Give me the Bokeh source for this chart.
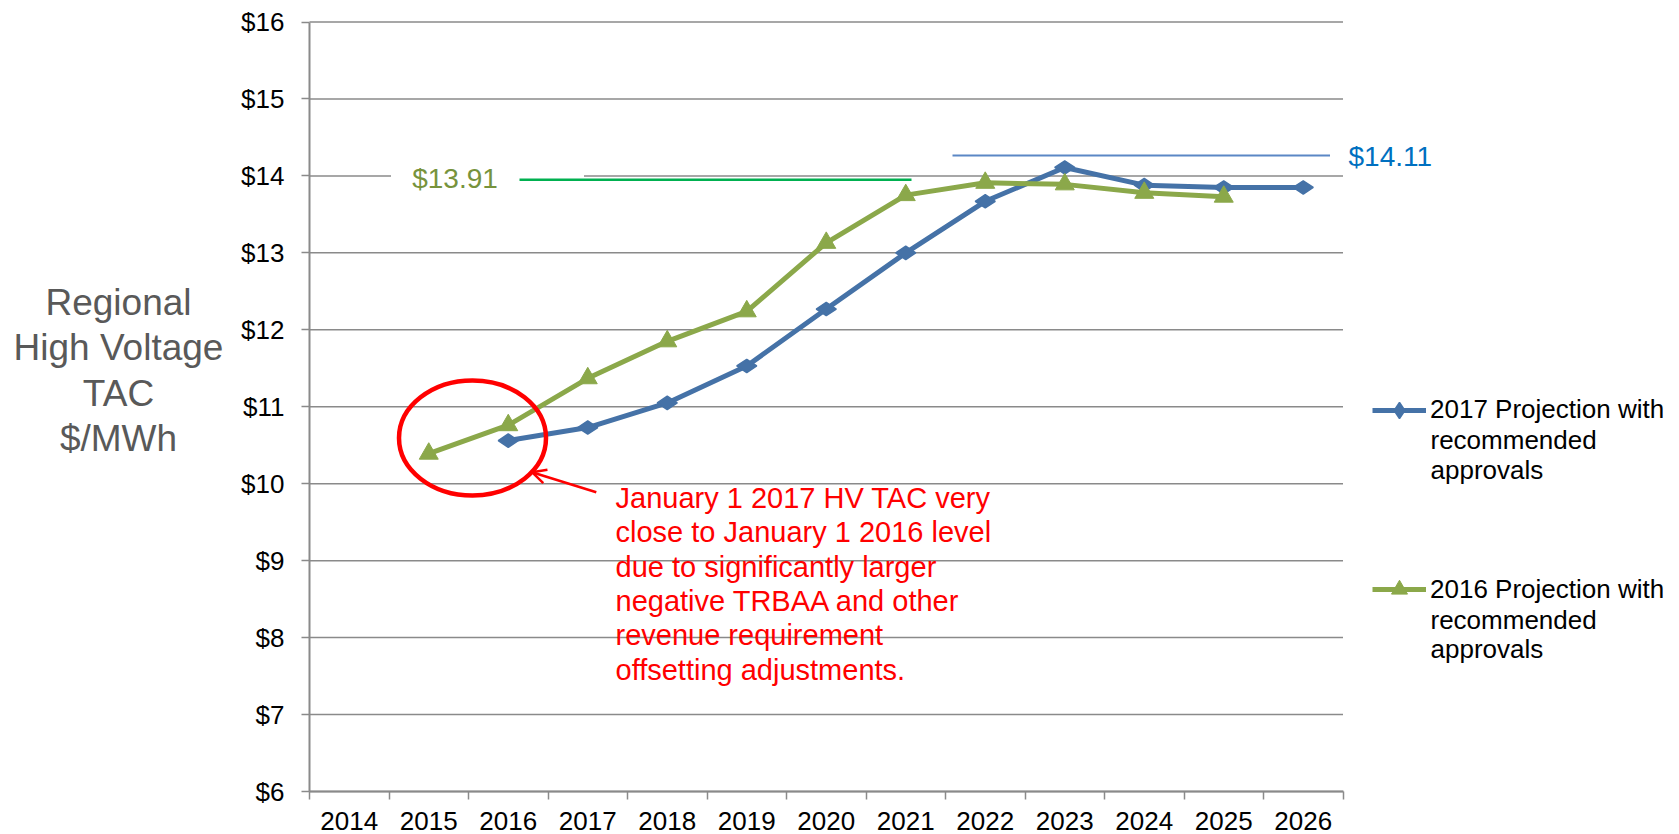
import math
from bokeh.plotting import figure
from bokeh.models import (Range1d, FixedTicker, NumeralTickFormatter, Label, Legend,
                          LegendItem, Arrow, OpenHead)
from bokeh.embed import file_html
from bokeh.resources import INLINE

# ---------------- data ----------------
category_years = [2014, 2015, 2016, 2017, 2018, 2019, 2020, 2021, 2022, 2023, 2024, 2025, 2026]
y_ticks = [6, 7, 8, 9, 10, 11, 12, 13, 14, 15, 16]

years_2017_proj = [2016, 2017, 2018, 2019, 2020, 2021, 2022, 2023, 2024, 2025, 2026]
tac_2017_proj = [10.56, 10.73, 11.05, 11.53, 12.27, 13.00, 13.67, 14.11, 13.88, 13.85, 13.85]

years_2016_proj = [2015, 2016, 2017, 2018, 2019, 2020, 2021, 2022, 2023, 2024, 2025]
tac_2016_proj = [10.39, 10.76, 11.37, 11.85, 12.24, 13.13, 13.75, 13.91, 13.89, 13.78, 13.73]

label_2016_peak = "$13.91"
label_2017_peak = "$14.11"
series_names = ["2017 Projection with", "2016 Projection with"]
legend_extra_lines = ["recommended", "approvals"]
y_title_lines = ["Regional", "High Voltage", "TAC", "$/MWh"]
note_lines = ["January 1 2017 HV TAC very",
              "close to January 1 2016 level",
              "due to significantly larger",
              "negative TRBAA and other",
              "revenue requirement",
              "offsetting adjustments."]

BLUE = "#4572A7"
GREEN = "#8BA84A"
GRID = "#8A8A8A"
FONT = "Liberation Sans"

W, H = 1679, 834
# plot area in page pixels
PL, PR, PT, PB = 309, 1342.5, 21.5, 791
X0, X1 = category_years[0] - 0.5, category_years[-1] + 0.5
Y0, Y1 = y_ticks[0], y_ticks[-1]
sx = (PR - PL) / (X1 - X0)
sy = (PB - PT) / (Y1 - Y0)

# the frame covers the whole canvas; axes are pinned to the plot area
p = figure(width=W, height=H,
           x_range=Range1d(X0 - PL / sx, X1 + (W - PR) / sx),
           y_range=Range1d(Y0 - (H - PB) / sy, Y1 + PT / sy),
           output_backend="svg", toolbar_location=None,
           min_border=0, min_border_left=0, min_border_right=0,
           min_border_top=0, min_border_bottom=0)
p.outline_line_color = None
p.background_fill_color = "white"
p.xgrid.visible = False
p.ygrid.visible = False

# horizontal gridlines limited to plot area
p.segment(x0=[X0] * len(y_ticks), y0=y_ticks, x1=[X1] * len(y_ticks), y1=y_ticks,
          line_color=GRID, line_width=1.5, level="underlay")

# x axis: labels at category centres, tick marks at category boundaries
xa = p.xaxis[0]
xa.fixed_location = Y0
xa.bounds = (X0, X1)
xa.ticker = FixedTicker(ticks=category_years,
                        minor_ticks=[y - 0.5 for y in category_years] + [category_years[-1] + 0.5])
xa.major_tick_out = 0
xa.major_tick_in = 0
xa.minor_tick_out = 8
xa.minor_tick_in = 0
xa.minor_tick_line_color = GRID
xa.minor_tick_line_width = 1.5
xa.axis_line_color = GRID
xa.axis_line_width = 2
xa.major_label_text_font = FONT
xa.major_label_text_font_size = "26px"
xa.major_label_text_color = "black"
xa.major_label_standoff = 12

ya = p.yaxis[0]
ya.fixed_location = X0
ya.bounds = (Y0, Y1)
ya.ticker = FixedTicker(ticks=y_ticks)
ya.formatter = NumeralTickFormatter(format="$0")
ya.major_tick_out = 8
ya.major_tick_in = 0
ya.minor_tick_out = 0
ya.minor_tick_in = 0
ya.major_tick_line_color = GRID
ya.major_tick_line_width = 1.5
ya.axis_line_color = GRID
ya.axis_line_width = 2
ya.major_label_text_font = FONT
ya.major_label_text_font_size = "26px"
ya.major_label_text_color = "black"
ya.major_label_standoff = 17

def fx(px):
    return X0 + (px - PL) / sx

def fy(py):
    return Y1 - (py - PT) / sy

def screen_label(px, py, text, **kw):
    return Label(x=px, y=H - py, x_units="screen", y_units="screen", text=text,
                 text_font=FONT, text_baseline="alphabetic", **kw)

# white box of the "$13.91" text box hiding the $14 gridline
p.quad(left=fx(390.5), right=fx(583.5), bottom=13.96, top=14.04,
       fill_color="white", line_color=None)

# reference lines
p.segment(x0=fx(519), y0=13.95, x1=fx(911), y1=13.95, line_color="#00B050", line_width=2.5)
p.segment(x0=fx(952), y0=14.265, x1=fx(1329.5), y1=14.265, line_color="#5B87C5", line_width=2)

# series
bl = p.line(years_2017_proj, tac_2017_proj, line_color=BLUE, line_width=5, line_join="round")
bs = p.scatter(years_2017_proj, tac_2017_proj, marker="diamond", angle=math.pi / 2, size=20,
               fill_color=BLUE, line_color=BLUE, line_width=1.5)
gl = p.line(years_2016_proj, tac_2016_proj, line_color=GREEN, line_width=5, line_join="round")
gs = p.scatter(years_2016_proj, tac_2016_proj, marker="triangle", size=19,
               fill_color=GREEN, line_color=GREEN)

# red circle + arrow + note
p.ellipse(x=fx(472), y=fy(437.5), width=147, height=115, width_units="screen",
          height_units="screen", fill_color=None, line_color="#FF0000", line_width=4.5)
p.add_layout(Arrow(x_start=fx(595.8), y_start=fy(491.7), x_end=fx(531.5), y_end=fy(471.7),
                   line_color="#FF0000", line_width=2.5,
                   end=OpenHead(size=14, line_color="#FF0000", line_width=2.5)))
for i, t in enumerate(note_lines):
    p.add_layout(screen_label(615, 497.5 + 34.3 * i, t, text_font_size="29px",
                              text_color="#FF0000"))

# peak labels
p.add_layout(screen_label(411.7, 177.5, label_2016_peak, text_font_size="28px",
                          text_color="#77933C"))
p.add_layout(screen_label(1348, 155.5, label_2017_peak, text_font_size="28px",
                          text_color="#0070C0"))

# y-axis title
for i, t in enumerate(y_title_lines):
    p.add_layout(screen_label(118, 302 + 45.3 * i, t, text_font_size="37px",
                              text_color="#595959", text_align="center"))

# legend
leg_centres = [409.5, 589.3]
for name, rends, cy in zip(series_names, [[bl, bs], [gl, gs]], leg_centres):
    lg = Legend(items=[LegendItem(label=name, renderers=rends)],
                location=(1372, H - (cy + 20)),
                padding=0, margin=0, spacing=0, glyph_width=54, glyph_height=40,
                label_height=30, label_standoff=4, label_text_font=FONT,
                label_text_font_size="26px", label_text_color="black",
                background_fill_alpha=0, border_line_alpha=0)
    p.add_layout(lg)
    for j, t in enumerate(legend_extra_lines):
        p.add_layout(screen_label(1430, cy + 30 + 29.5 * j, t, text_font_size="26px",
                                  text_color="black"))

open("out.html", "w").write(file_html(p, INLINE))
